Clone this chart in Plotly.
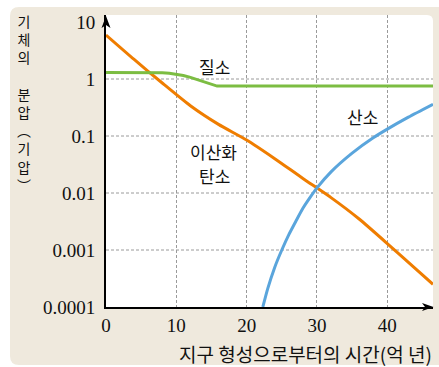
import math
import plotly.graph_objects as go

# ---------------- data ----------------
co2_x = [0, 4, 8, 12, 16, 20, 24, 28, 32, 36, 40, 44, 46.5]
co2_y = [5.9, 2.2, 0.85, 0.34, 0.16, 0.085, 0.04, 0.018, 0.0083, 0.0035, 0.0013, 0.00047, 0.00025]

n2_x = [0, 6, 8, 9, 10, 11, 12, 13, 14, 15, 15.8, 46.5]
n2_y = [1.3, 1.3, 1.29, 1.26, 1.22, 1.15, 1.07, 0.98, 0.89, 0.81, 0.75, 0.75]

o2_x = [22.3, 23, 24, 25, 26, 27, 28, 29, 30, 32, 35, 38, 40, 43, 46.5]
o2_y = [1e-4, 2.1e-4, 5e-4, 1e-3, 1.86e-3, 3.2e-3, 5.4e-3, 8.3e-3, 1.23e-2, 2.35e-2, 5.0e-2, 0.093, 0.132, 0.214, 0.36]

x_ticks = [0, 10, 20, 30, 40]
y_ticks = [1e-4, 1e-3, 1e-2, 1e-1, 1, 10]
y_ticktext = ["0.0001", "0.001", "0.01", "0.1", "1", "10"]
y_grid = [1e-3, 1e-2, 1e-1, 1]

label_n2 = "질소"
label_co2 = ["이산화", "탄소"]
label_o2 = "산소"
x_title = "지구 형성으로부터의 시간(억 년)"
y_title_lines = ["기", "체", "의", "", "분", "압", "︵", "기", "압", "︶"]

# ---------------- geometry ----------------
W, H = 439, 367
L, R, T, B = 106, 433, 15, 307
PW, PH = R - L, B - T
X_MAX = 46.5
Y_LO = -4.0
Y_HI = Y_LO + PH / 57.0

def px(x):
    return (x - L) / PW

def py(y):
    return (B - y) / PH

BEIGE = "#efe9dd"
TXT = "#111111"
GRID = "#9a9a9a"
SERIF = "Liberation Serif, Times New Roman, serif"
KFONT = "Noto Sans CJK KR"

fig = go.Figure()
fig.add_trace(go.Scatter(x=co2_x, y=co2_y, mode="lines",
                         line=dict(color="#ef7d00", width=3, shape="spline", smoothing=0.6),
                         hoverinfo="skip"))
fig.add_trace(go.Scatter(x=n2_x, y=n2_y, mode="lines",
                         line=dict(color="#7cbd42", width=3),
                         hoverinfo="skip"))
fig.add_trace(go.Scatter(x=o2_x, y=o2_y, mode="lines",
                         line=dict(color="#5aa5dc", width=3, shape="spline", smoothing=0.6),
                         hoverinfo="skip"))

shapes = []
# beige rounded background
bx0, bx1, by0, by1, r = 10, 446, 7, 365, 9
path = (f"M{px(bx0 + r)},{py(by0)} L{px(bx1)},{py(by0)} L{px(bx1)},{py(by1)} "
        f"L{px(bx0 + r)},{py(by1)} Q{px(bx0)},{py(by1)} {px(bx0)},{py(by1 - r)} "
        f"L{px(bx0)},{py(by0 + r)} Q{px(bx0)},{py(by0)} {px(bx0 + r)},{py(by0)} Z")
shapes.append(dict(type="path", xref="paper", yref="paper", path=path,
                   fillcolor=BEIGE, line=dict(width=0), layer="below"))
# white plot area with rounded top-right corner
r2 = 6
path2 = (f"M{px(L)},{py(T)} L{px(R - r2)},{py(T)} Q{px(R)},{py(T)} {px(R)},{py(T + r2)} "
         f"L{px(R)},{py(B)} L{px(L)},{py(B)} Z")
shapes.append(dict(type="path", xref="paper", yref="paper", path=path2,
                   fillcolor="white", line=dict(width=0), layer="below"))
# horizontal dashed gridlines
for v in y_grid:
    yp = (math.log10(v) - Y_LO) / (Y_HI - Y_LO)
    shapes.append(dict(type="line", xref="paper", yref="paper", x0=0, x1=1, y0=yp, y1=yp,
                       line=dict(color=GRID, width=1, dash="3px,2px"), layer="below"))
# arrowheads
ya = (f"M{px(106)},{py(16)} L{px(110.5)},{py(28)} L{px(106)},{py(25)} L{px(101.5)},{py(28)} Z")
shapes.append(dict(type="path", xref="paper", yref="paper", path=ya,
                   fillcolor="black", line=dict(width=0), layer="above"))
xa = (f"M{px(433.5)},{py(307)} L{px(422)},{py(303)} L{px(425)},{py(307)} L{px(422)},{py(311)} Z")
shapes.append(dict(type="path", xref="paper", yref="paper", path=xa,
                   fillcolor="black", line=dict(width=0), layer="above"))

ann = []
def text(t, x, y, size=17, xanchor="center", yanchor="middle"):
    ann.append(dict(text=t, x=px(x), y=py(y), xref="paper", yref="paper", showarrow=False,
                    xanchor=xanchor, yanchor=yanchor,
                    font=dict(family=KFONT, size=size, color=TXT)))

text(label_n2, 214, 66)
text(label_co2[0], 213, 151)
text(label_co2[1], 214, 175)
text(label_o2, 362, 116)
text(x_title, 434, 353, size=19, xanchor="right")
# vertical y-axis title: one text block, one character per line
n = len(y_title_lines)
ysize = 14
pitch = ysize * 1.3
text("<br>".join(c if c else " " for c in y_title_lines), 24, 21 + pitch * (n - 1) / 2, size=ysize)

fig.update_layout(
    width=W, height=H,
    margin=dict(l=L, r=W - R, t=T, b=H - B, pad=0),
    paper_bgcolor="white",
    plot_bgcolor="rgba(0,0,0,0)",
    showlegend=False,
    shapes=shapes,
    annotations=ann,
    xaxis=dict(range=[0, X_MAX], tickvals=x_ticks, showgrid=True, gridcolor=GRID,
               griddash="3px,2px", gridwidth=1, zeroline=False, showline=True,
               linecolor="black", linewidth=2, ticks="",
               tickfont=dict(family=SERIF, size=19, color=TXT)),
    yaxis=dict(type="log", range=[Y_LO, Y_HI], tickvals=y_ticks, ticktext=y_ticktext,
               showgrid=False, zeroline=False, showline=True, linecolor="black",
               linewidth=2, ticks="", ticklabelstandoff=5,
               tickfont=dict(family=SERIF, size=19, color=TXT)),
)

fig.write_html("out.html")
